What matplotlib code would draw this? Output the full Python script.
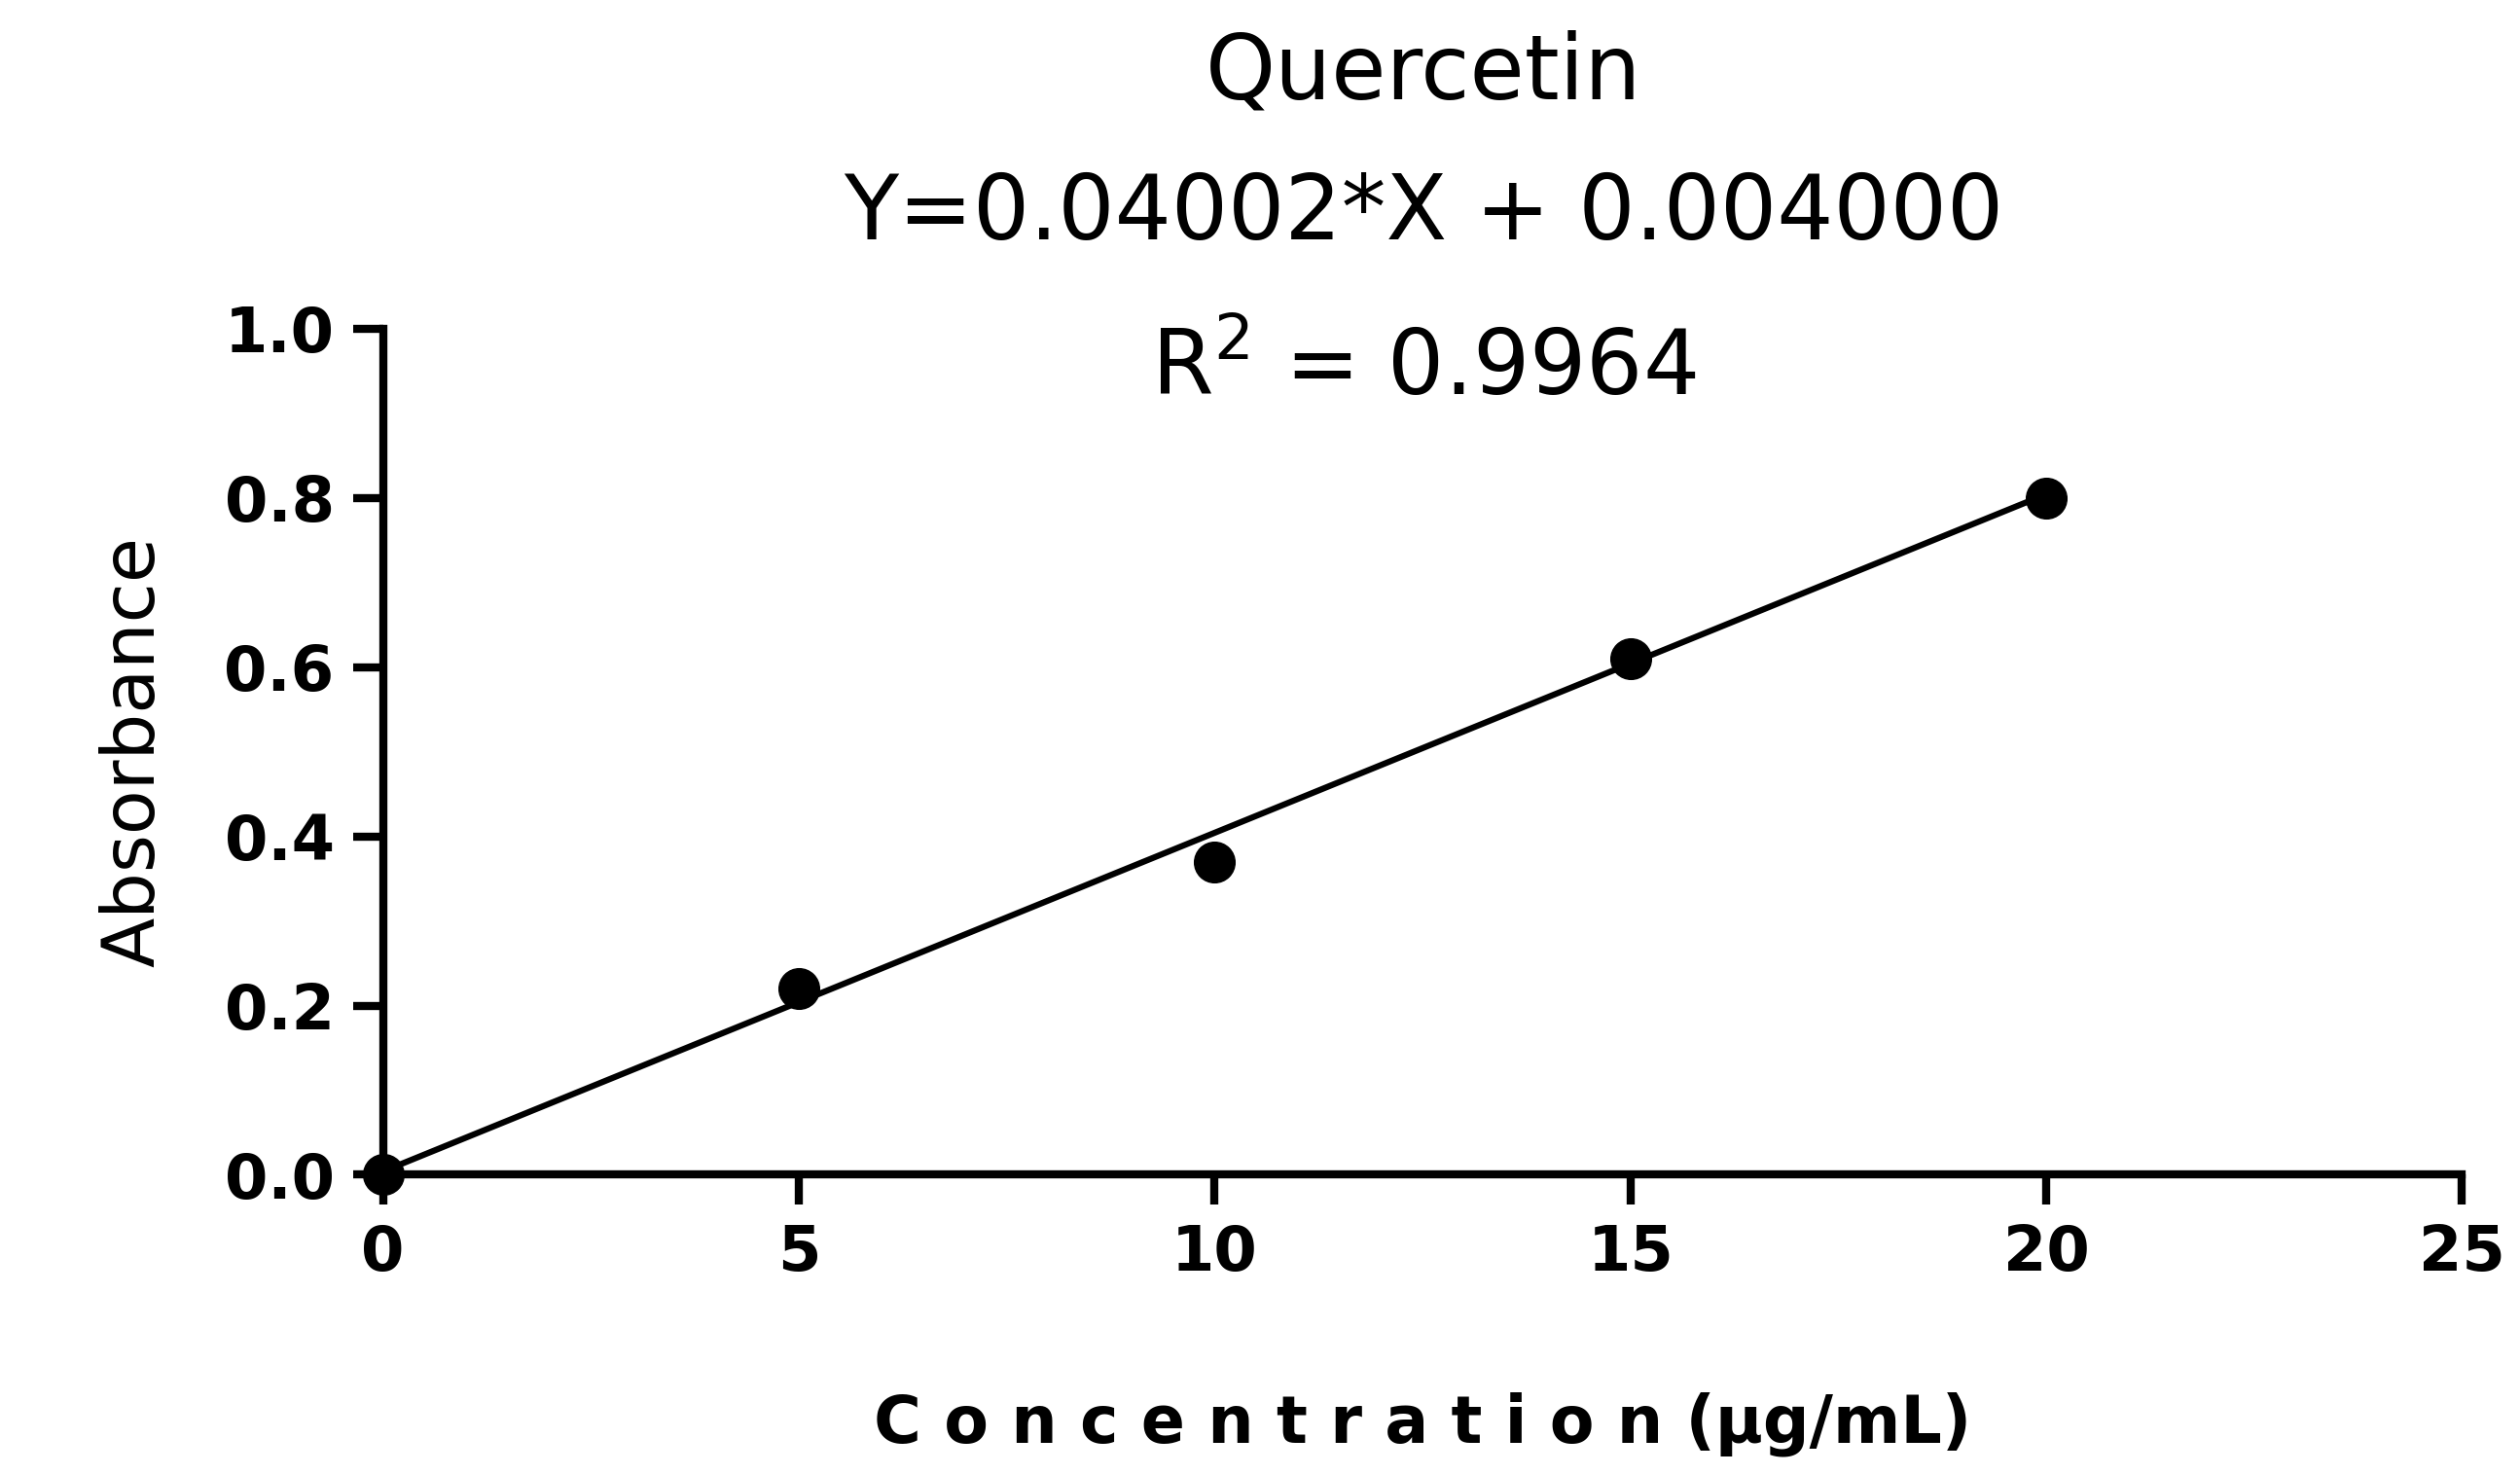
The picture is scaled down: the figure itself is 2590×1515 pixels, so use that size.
import numpy as np
import matplotlib
matplotlib.use("Agg")
import matplotlib.pyplot as plt

# Standard curve data
concentration = [0, 5, 10, 15, 20]
absorbance = [0.0, 0.22, 0.37, 0.61, 0.80]
slope = 0.04002
intercept = 0.004
x_ticks = [0, 5, 10, 15, 20, 25]
y_ticks = [0.0, 0.2, 0.4, 0.6, 0.8, 1.0]

fig = plt.figure(figsize=(25.9, 15.15), dpi=100)
ax = fig.add_axes([0.152, 0.203, 0.825, 0.574])

fit_x = np.array([concentration[0], concentration[-1]])
ax.plot(fit_x, slope * fit_x + intercept, color="black", lw=4.5, zorder=2)
ax.scatter(concentration, absorbance, s=900, color="black", zorder=3, clip_on=False)

ax.set_xlim(0, 25)
ax.set_ylim(0, 1.0)
ax.set_xticks(x_ticks)
ax.set_yticks(y_ticks)
ax.set_yticklabels([f"{v:.1f}" for v in y_ticks])
for s in ["top", "right"]:
    ax.spines[s].set_visible(False)
for s in ["left", "bottom"]:
    ax.spines[s].set_linewidth(6)
ax.tick_params(width=6, length=22, labelsize=46, pad=14)
for lab in ax.get_xticklabels() + ax.get_yticklabels():
    lab.set_fontweight("bold")

ax.set_ylabel("Absorbance", fontsize=54, labelpad=40)
ax.set_xlabel("C o n c e n t r a t i o n (µg/mL)", fontsize=48, fontweight="bold", labelpad=80)

fig.text(0.565, 0.95, "Quercetin", ha="center", va="center", fontsize=66, fontweight="medium")
fig.text(0.565, 0.855, "Y=0.04002*X + 0.004000", ha="center", va="center", fontsize=66, fontweight="medium")
fig.text(0.565, 0.75, r"R$^2$ = 0.9964", ha="center", va="center", fontsize=66, fontweight="medium")

fig.savefig("out.png", dpi=100)
